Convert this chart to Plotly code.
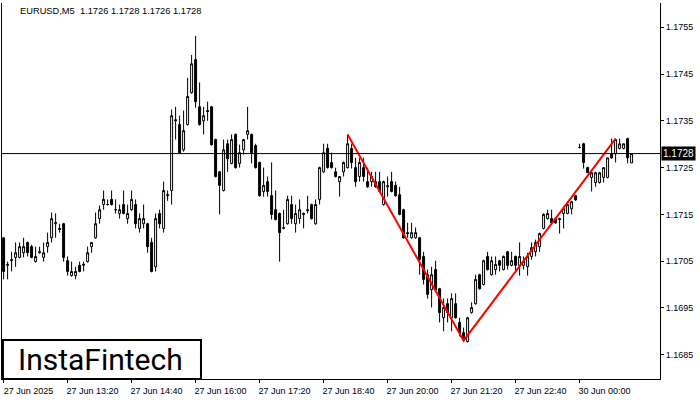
import pandas as pd
import plotly.graph_objects as go

symbol = "EURUSD"
timeframe = "M5"

friday_times = pd.date_range("2025-06-27 12:00", periods=144, freq="5min")
monday_times = pd.date_range("2025-06-30 00:00", periods=14, freq="5min")
times = list(friday_times) + list(monday_times)
time_keys = [t.strftime("%Y-%m-%d %H:%M") for t in times]

opens = [1.17100, 1.17041, 1.17051, 1.17058, 1.17058, 1.17068, 1.17090, 1.17081, 1.17049, 1.17068,
         1.17058, 1.17081, 1.17100, 1.17130, 1.17120, 1.17130, 1.17051, 1.17019, 1.17019, 1.17041,
         1.17041, 1.17049, 1.17081, 1.17100, 1.17141, 1.17171, 1.17171, 1.17182, 1.17160, 1.17152,
         1.17171, 1.17141, 1.17160, 1.17171, 1.17120, 1.17130, 1.17130, 1.17090, 1.17038, 1.17152,
         1.17120, 1.17190, 1.17201, 1.17350, 1.17342, 1.17288, 1.17342, 1.17410, 1.17481, 1.17380,
         1.17350, 1.17372, 1.17380, 1.17310, 1.17241, 1.17201, 1.17301, 1.17259, 1.17321, 1.17259,
         1.17288, 1.17321, 1.17321, 1.17297, 1.17261, 1.17199, 1.17220, 1.17190, 1.17160, 1.17152,
         1.17120, 1.17130, 1.17171, 1.17130, 1.17141, 1.17152, 1.17160, 1.17171, 1.17130, 1.17182,
         1.17241, 1.17291, 1.17261, 1.17241, 1.17220, 1.17241, 1.17250, 1.17291, 1.17250, 1.17231,
         1.17250, 1.17220, 1.17220, 1.17220, 1.17220, 1.17171, 1.17209, 1.17220, 1.17212, 1.17192,
         1.17160, 1.17111, 1.17100, 1.17100, 1.17100, 1.17060, 1.17021, 1.16989, 1.17032, 1.16991,
         1.16929, 1.16959, 1.16929, 1.16959, 1.16919, 1.16897, 1.16878, 1.16940, 1.16959, 1.17021,
         1.17000, 1.17060, 1.17021, 1.17032, 1.17051, 1.17032, 1.17070, 1.17041, 1.17060, 1.17041,
         1.17041, 1.17038, 1.17060, 1.17070, 1.17081, 1.17120, 1.17141, 1.17141, 1.17141, 1.17141,
         1.17152, 1.17152, 1.17162, 1.17190, 1.17293, 1.17301, 1.17250, 1.17229, 1.17218, 1.17218,
         1.17229, 1.17229, 1.17280, 1.17280, 1.17291, 1.17291, 1.17312, 1.17260]

highs = [1.17100, 1.17049, 1.17070, 1.17090, 1.17090, 1.17100, 1.17092, 1.17085, 1.17081, 1.17081,
         1.17090, 1.17111, 1.17154, 1.17152, 1.17130, 1.17132, 1.17060, 1.17049, 1.17038, 1.17049,
         1.17049, 1.17081, 1.17090, 1.17154, 1.17169, 1.17201, 1.17182, 1.17201, 1.17182, 1.17171,
         1.17201, 1.17171, 1.17201, 1.17182, 1.17152, 1.17171, 1.17132, 1.17100, 1.17152, 1.17160,
         1.17220, 1.17201, 1.17374, 1.17380, 1.17361, 1.17372, 1.17442, 1.17491, 1.17532, 1.17432,
         1.17380, 1.17391, 1.17382, 1.17312, 1.17243, 1.17310, 1.17310, 1.17321, 1.17323, 1.17299,
         1.17310, 1.17380, 1.17323, 1.17301, 1.17263, 1.17250, 1.17231, 1.17261, 1.17201, 1.17154,
         1.17160, 1.17190, 1.17190, 1.17171, 1.17182, 1.17154, 1.17190, 1.17173, 1.17182, 1.17252,
         1.17301, 1.17301, 1.17282, 1.17250, 1.17231, 1.17263, 1.17321, 1.17301, 1.17271, 1.17271,
         1.17271, 1.17250, 1.17241, 1.17241, 1.17241, 1.17222, 1.17231, 1.17241, 1.17220, 1.17209,
         1.17162, 1.17132, 1.17132, 1.17122, 1.17102, 1.17070, 1.17032, 1.17038, 1.17051, 1.16993,
         1.16970, 1.16970, 1.16981, 1.16981, 1.16929, 1.16908, 1.16931, 1.16962, 1.17021, 1.17023,
         1.17053, 1.17070, 1.17060, 1.17060, 1.17053, 1.17062, 1.17072, 1.17070, 1.17062, 1.17090,
         1.17060, 1.17068, 1.17090, 1.17096, 1.17111, 1.17152, 1.17160, 1.17160, 1.17143, 1.17143,
         1.17162, 1.17173, 1.17179, 1.17192, 1.17301, 1.17303, 1.17252, 1.17241, 1.17241, 1.17241,
         1.17250, 1.17271, 1.17312, 1.17312, 1.17312, 1.17301, 1.17314, 1.17280]

lows = [1.17011, 1.17011, 1.17028, 1.17038, 1.17056, 1.17058, 1.17060, 1.17056, 1.17047, 1.17066,
        1.17049, 1.17068, 1.17090, 1.17100, 1.17111, 1.17049, 1.17019, 1.17017, 1.17011, 1.17026,
        1.17028, 1.17047, 1.17068, 1.17098, 1.17130, 1.17160, 1.17169, 1.17169, 1.17152, 1.17141,
        1.17150, 1.17130, 1.17158, 1.17120, 1.17111, 1.17120, 1.17068, 1.17026, 1.17028, 1.17120,
        1.17111, 1.17179, 1.17171, 1.17310, 1.17280, 1.17284, 1.17340, 1.17408, 1.17378, 1.17340,
        1.17321, 1.17350, 1.17297, 1.17229, 1.17150, 1.17199, 1.17241, 1.17257, 1.17248, 1.17250,
        1.17278, 1.17310, 1.17259, 1.17248, 1.17188, 1.17188, 1.17188, 1.17139, 1.17137, 1.17049,
        1.17118, 1.17128, 1.17130, 1.17111, 1.17130, 1.17120, 1.17152, 1.17139, 1.17128, 1.17171,
        1.17239, 1.17248, 1.17248, 1.17229, 1.17188, 1.17231, 1.17248, 1.17248, 1.17209, 1.17220,
        1.17220, 1.17207, 1.17209, 1.17207, 1.17197, 1.17169, 1.17188, 1.17197, 1.17188, 1.17148,
        1.17098, 1.17100, 1.17098, 1.17098, 1.17021, 1.17000, 1.16970, 1.16951, 1.16987, 1.16919,
        1.16900, 1.16919, 1.16900, 1.16927, 1.16889, 1.16878, 1.16876, 1.16938, 1.16957, 1.16989,
        1.16998, 1.17030, 1.17019, 1.17021, 1.17028, 1.17030, 1.17032, 1.17039, 1.17028, 1.17019,
        1.17032, 1.17019, 1.17053, 1.17060, 1.17070, 1.17118, 1.17139, 1.17130, 1.17130, 1.17109,
        1.17120, 1.17150, 1.17150, 1.17179, 1.17291, 1.17248, 1.17239, 1.17199, 1.17209, 1.17216,
        1.17218, 1.17227, 1.17269, 1.17261, 1.17289, 1.17289, 1.17259, 1.17260]

closes = [1.17028, 1.17043, 1.17053, 1.17068, 1.17081, 1.17081, 1.17068, 1.17058, 1.17060, 1.17070,
          1.17068, 1.17090, 1.17141, 1.17132, 1.17118, 1.17058, 1.17028, 1.17028, 1.17028, 1.17028,
          1.17043, 1.17068, 1.17090, 1.17130, 1.17160, 1.17182, 1.17171, 1.17171, 1.17160, 1.17160,
          1.17152, 1.17152, 1.17182, 1.17130, 1.17141, 1.17141, 1.17081, 1.17028, 1.17141, 1.17130,
          1.17201, 1.17192, 1.17361, 1.17352, 1.17282, 1.17329, 1.17402, 1.17472, 1.17391, 1.17342,
          1.17361, 1.17370, 1.17299, 1.17231, 1.17212, 1.17288, 1.17269, 1.17310, 1.17250, 1.17282,
          1.17310, 1.17329, 1.17282, 1.17250, 1.17190, 1.17212, 1.17199, 1.17150, 1.17139, 1.17111,
          1.17122, 1.17182, 1.17141, 1.17152, 1.17160, 1.17150, 1.17158, 1.17141, 1.17171, 1.17250,
          1.17282, 1.17250, 1.17250, 1.17231, 1.17231, 1.17261, 1.17301, 1.17261, 1.17220, 1.17261,
          1.17231, 1.17209, 1.17231, 1.17209, 1.17199, 1.17220, 1.17211, 1.17199, 1.17190, 1.17150,
          1.17100, 1.17109, 1.17111, 1.17111, 1.17053, 1.17011, 1.16979, 1.17021, 1.16989, 1.16940,
          1.16951, 1.16940, 1.16970, 1.16929, 1.16897, 1.16885, 1.16929, 1.16951, 1.17011, 1.16991,
          1.17051, 1.17032, 1.17051, 1.17043, 1.17041, 1.17060, 1.17041, 1.17051, 1.17041, 1.17060,
          1.17049, 1.17060, 1.17079, 1.17090, 1.17109, 1.17150, 1.17152, 1.17132, 1.17132, 1.17139,
          1.17162, 1.17171, 1.17177, 1.17181, 1.17293, 1.17261, 1.17239, 1.17239, 1.17239, 1.17239,
          1.17250, 1.17271, 1.17271, 1.17310, 1.17301, 1.17301, 1.17271, 1.17280]

# Double-bottom pattern points (bar index, price)
pattern_bars = [86, 115, 153]
pattern_prices = [1.17321, 1.16880, 1.17312]

price_ticks = [1.1685, 1.1695, 1.1705, 1.1715, 1.1725, 1.1735, 1.1745, 1.1755]
time_tick_bars = list(range(0, len(times), 16))

tick_text = []
for k, i in enumerate(time_tick_bars):
    t = times[i]
    tick_text.append(t.strftime("%d %b %Y") if k == 0 else t.strftime("%d %b %H:%M"))

FONT = "Liberation Sans"

fig = go.Figure()
fig.add_trace(go.Candlestick(
    x=time_keys, open=opens, high=highs, low=lows, close=closes,
    increasing=dict(line=dict(color="black", width=1), fillcolor="white"),
    decreasing=dict(line=dict(color="black", width=1), fillcolor="black"),
    whiskerwidth=0, hoverinfo="skip", showlegend=False,
))
fig.add_trace(go.Scatter(
    x=[time_keys[i] for i in pattern_bars], y=pattern_prices,
    mode="lines", line=dict(color="#ff0000", width=2),
    hoverinfo="skip", showlegend=False,
))

last_price = closes[-1]
fig.add_hline(y=last_price, line=dict(color="black", width=1))

fig.update_layout(
    width=700, height=400,
    margin=dict(l=2, r=40, t=3, b=21, pad=0),
    paper_bgcolor="white", plot_bgcolor="white",
    font=dict(family=FONT, size=9, color="black"),
    showlegend=False,
)
fig.update_xaxes(
    type="category", range=[-0.4, 164.1],
    rangeslider=dict(visible=False),
    tickvals=[time_keys[i] for i in time_tick_bars], ticktext=tick_text,
    ticks="outside", ticklen=3, tickcolor="black", tickwidth=1,
    ticklabelshift=25,
    showline=True, linecolor="black", linewidth=1,
    showgrid=False, zeroline=False,
    tickfont=dict(family=FONT, size=9, color="black"),
)
fig.update_yaxes(
    side="right", range=[1.16798, 1.17602],
    tickvals=price_ticks, ticktext=[f"{v:.4f}" for v in price_ticks],
    ticks="outside", ticklen=3, tickcolor="black", tickwidth=1,
    showline=True, linecolor="black", linewidth=1, mirror=True,
    showgrid=False, zeroline=False,
    tickfont=dict(family=FONT, size=9, color="black"),
)

# header text
fig.add_annotation(
    xref="paper", yref="paper", x=0.0243, y=0.979, xanchor="left", yanchor="middle",
    text=f"{symbol},{timeframe}  {opens[-1]:.4f} {highs[-1]:.4f} {lows[-1]:.4f} {closes[-1]:.4f}",
    showarrow=False, font=dict(family=FONT, size=9.3, color="black"),
)
# current price label on axis
fig.add_annotation(
    xref="paper", yref="y", x=1, y=last_price, xanchor="left", yanchor="middle",
    xshift=1, text=f"{last_price:.4f}", showarrow=False, bgcolor="black",
    borderpad=1, font=dict(family=FONT, size=10, color="white"),
)
# logo box
fig.add_shape(type="rect", xref="paper", yref="paper", x0=0.0015, x1=0.3024, y0=0, y1=0.1037,
              line=dict(color="black", width=2), fillcolor="white", layer="above")
fig.add_annotation(
    xref="paper", yref="paper", x=0.1497, y=0.052, xanchor="center", yanchor="middle",
    text="InstaFintech", showarrow=False, font=dict(family="Roboto", size=30, color="black"),
)

fig.write_html(
    "out.html",
    config={"displayModeBar": False, "staticPlot": True},
    post_script="document.body.style.margin='0';document.body.style.overflow='hidden';",
)
